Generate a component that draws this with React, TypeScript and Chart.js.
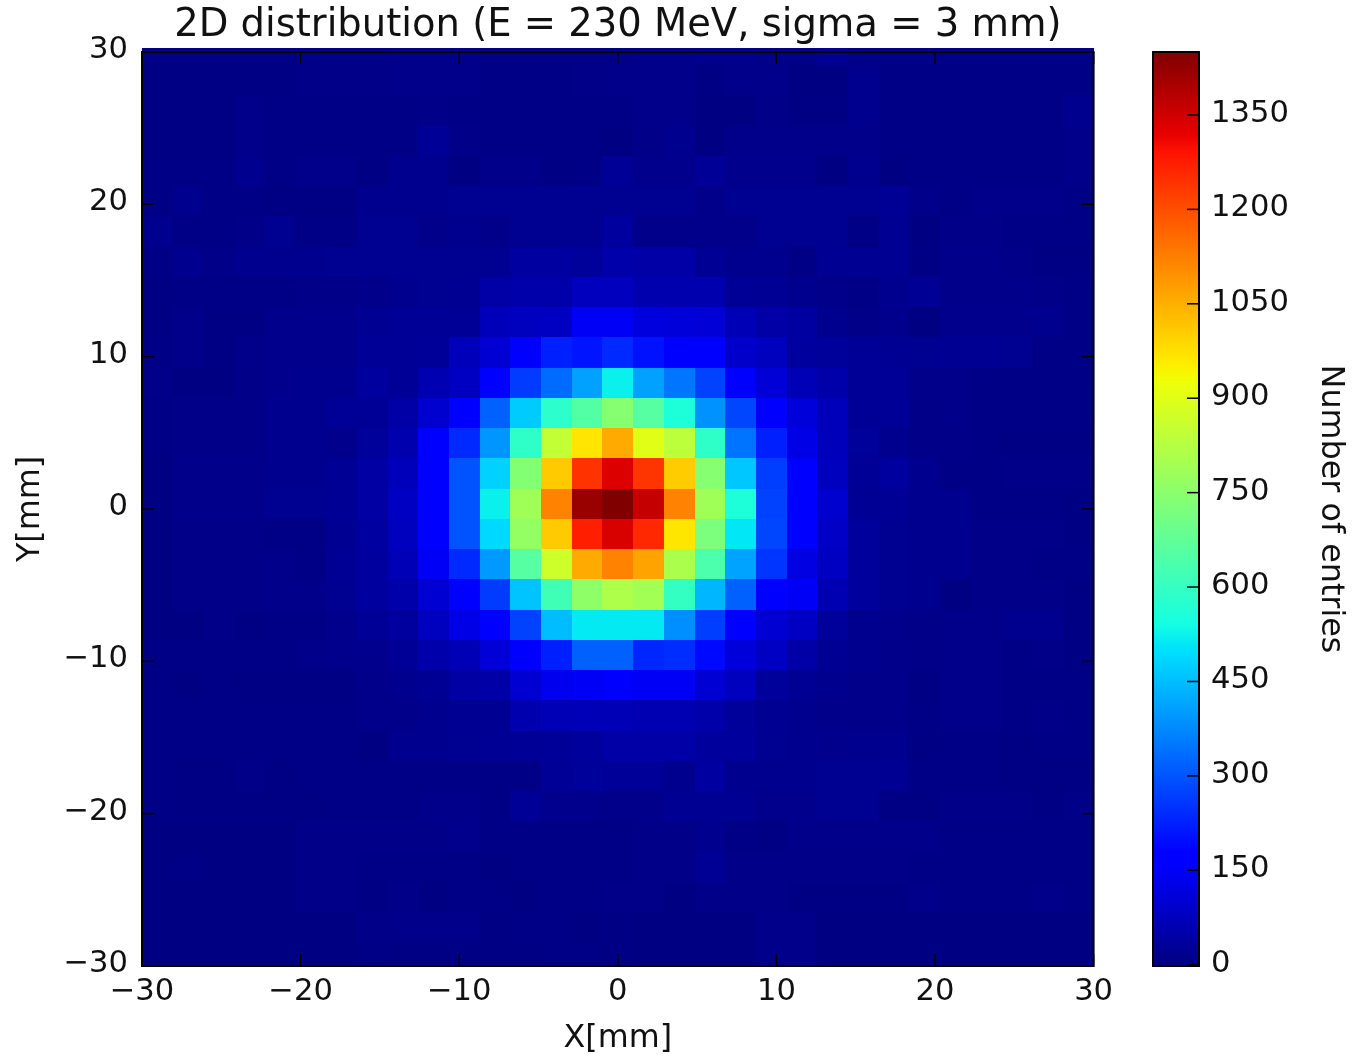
import React, { useEffect, useRef } from "react";
import { Chart, registerables } from "chart.js";

Chart.register(...registerables);

const FONT = "'DejaVu Sans', sans-serif";
const TICK_SIZE = 30.6;
const LABEL_SIZE = 31.8;
const TITLE_SIZE = 38.5;
const INK = "#111";

const titleText = "2D distribution (E = 230 MeV, sigma = 3 mm)";
const xLabel = "X[mm]";
const yLabel = "Y[mm]";
const colorbarLabel = "Number of entries";
const axisMin = -30;
const axisMax = 30;
const xBinCount = 31;
const yEdgeTop = 31.13;
const yBinStep = 1.986;
const imageTop = 30.27;
const colorMax = 1452;
const colorbarTicks = [0, 150, 300, 450, 600, 750, 900, 1050, 1200, 1350];

// counts per row from the top of the picture, columns left to right
const counts: number[][] = [
  [8,8,8,8,8,12,12,12,14,14,14,10,10,8,10,8,14,14,18,18,12,12,24,12,12,12,12,12,12,12,12],
  [7,7,7,7,7,12,12,12,14,14,14,10,10,10,12,14,14,14,6,14,14,5,5,18,8,8,8,8,8,8,8],
  [7,7,7,14,8,8,8,8,8,12,8,8,8,10,10,10,14,14,5,3,12,6,6,18,10,10,10,10,10,10,18],
  [7,7,7,14,8,8,8,8,8,30,12,8,8,10,10,5,12,20,3,14,14,14,14,14,10,10,10,10,10,10,14],
  [8,8,8,20,8,15,15,6,18,18,4,15,15,6,10,28,16,16,30,16,16,16,5,18,5,10,10,10,10,10,14],
  [10,18,8,10,6,6,6,20,20,20,22,22,22,22,22,22,22,22,14,22,22,22,22,22,26,14,8,14,14,14,8],
  [18,10,10,12,22,10,10,22,22,14,20,14,22,22,22,40,14,14,14,14,22,22,22,8,24,5,12,12,8,8,8],
  [10,18,12,18,18,18,22,22,22,22,22,22,42,42,35,55,50,50,26,18,20,10,24,24,24,6,14,14,12,6,6],
  [6,8,8,8,8,12,12,14,20,22,25,50,55,55,78,78,58,58,58,28,26,20,14,8,18,26,14,14,14,12,10],
  [6,14,6,6,16,16,16,24,28,28,30,75,80,85,150,150,120,115,110,70,48,42,20,12,16,5,16,16,16,18,8],
  [10,14,6,14,16,16,16,28,28,32,75,105,175,225,210,240,205,180,165,95,80,40,34,28,24,22,24,24,22,10,10],
  [12,5,5,12,16,18,18,38,30,65,85,165,265,335,410,525,410,350,275,165,110,70,55,30,30,15,15,10,10,8,8],
  [8,12,12,12,18,18,28,28,50,100,165,320,470,585,655,745,660,560,390,280,170,115,75,30,30,12,14,10,10,8,8],
  [8,12,12,12,18,18,16,35,60,160,240,395,590,850,970,1060,905,840,590,345,225,130,75,35,18,12,12,10,6,6,6],
  [4,14,14,14,20,20,26,45,75,165,300,480,740,1010,1245,1335,1240,1008,745,465,270,170,80,28,38,20,10,10,12,12,12],
  [4,14,14,14,22,22,26,45,85,170,300,525,790,1120,1420,1452,1365,1120,790,560,275,170,100,26,26,20,18,10,10,10,6],
  [4,12,12,12,10,10,24,42,80,170,300,490,770,1010,1275,1340,1260,968,725,510,280,170,90,36,22,18,18,12,12,12,6],
  [4,12,12,12,14,8,26,38,70,150,240,400,660,870,1060,1120,1070,810,640,415,255,125,85,36,22,18,18,12,12,8,8],
  [4,12,12,12,14,14,22,38,55,105,170,265,460,620,760,815,795,600,440,320,170,150,65,36,22,18,3,12,12,12,6],
  [4,4,12,6,10,10,16,30,40,80,130,170,275,450,515,515,515,385,270,165,105,85,34,20,16,12,14,14,20,20,6],
  [10,10,10,10,10,14,16,16,30,55,70,110,165,225,320,320,235,245,195,115,85,50,24,20,14,12,14,14,10,12,6],
  [8,4,10,6,6,6,6,14,20,25,45,50,105,140,150,170,150,150,105,80,35,25,20,14,14,6,14,14,10,10,8],
  [10,10,10,10,10,10,10,14,15,20,25,25,58,70,70,70,65,65,55,35,25,20,14,14,14,10,14,14,10,12,8],
  [10,8,8,8,10,10,10,4,20,20,22,26,28,32,36,50,50,50,36,36,22,18,16,18,20,6,10,10,6,8,10],
  [10,6,6,12,6,8,8,10,10,10,10,10,10,30,34,32,32,20,42,18,18,18,22,22,24,8,8,8,6,6,6],
  [8,6,6,6,6,6,10,10,10,14,14,8,28,16,16,14,14,24,24,24,16,16,22,22,6,6,12,12,12,6,12],
  [4,4,4,4,4,12,12,12,12,12,16,8,10,10,10,8,12,12,20,10,6,14,14,14,14,14,8,8,8,8,8],
  [4,10,4,4,4,12,12,10,10,10,10,5,10,10,10,8,12,12,26,12,12,12,12,12,12,8,10,8,8,8,8],
  [4,4,4,4,4,12,12,6,12,3,10,10,3,10,10,12,12,5,12,12,12,6,6,6,6,14,8,8,8,14,8],
  [4,4,4,4,4,4,4,12,14,14,14,6,10,10,3,6,4,4,4,4,14,14,5,5,5,5,5,5,5,5,5],
  [3,3,3,3,3,3,3,10,6,6,6,6,6,8,8,6,4,4,4,4,14,14,5,5,5,5,5,5,5,5,5],
];

const jetR: [number, number][] = [[0, 0], [0.35, 0], [0.66, 1], [0.89, 1], [1, 0.5]];
const jetG: [number, number][] = [[0, 0], [0.125, 0], [0.375, 1], [0.64, 1], [0.91, 0], [1, 0]];
const jetB: [number, number][] = [[0, 0.5], [0.11, 1], [0.34, 1], [0.65, 0], [1, 0]];
const jetStops = [0, 0.11, 0.125, 0.34, 0.35, 0.375, 0.64, 0.65, 0.66, 0.89, 0.91, 1];

function lerpTable(t: [number, number][], f: number) {
  for (let i = 1; i < t.length; i++) {
    if (f <= t[i][0]) {
      const [a, va] = t[i - 1];
      const [b, vb] = t[i];
      return va + ((vb - va) * (f - a)) / (b - a);
    }
  }
  return t[t.length - 1][1];
}

function jet(f: number) {
  const c = Math.max(0, Math.min(1, f));
  const ch = (t: [number, number][]) => Math.round(lerpTable(t, c) * 255);
  return `rgb(${ch(jetR)},${ch(jetG)},${ch(jetB)})`;
}

const xStep = (axisMax - axisMin) / xBinCount;
const cells = counts.flatMap((row, r) =>
  row.map((v, c) => ({
    x: axisMin + (c + 0.5) * xStep,
    y: yEdgeTop - (r + 0.5) * yBinStep,
    v,
  }))
);

const minusTick = (v: string | number) => String(v).replace("-", "\u2212");

const heatmapPlugin = {
  id: "heatmapCells",
  beforeDatasetsDraw(chart: any) {
    const { ctx, scales } = chart;
    const pts = chart.data.datasets[0].data as typeof cells;
    ctx.save();
    for (const p of pts) {
      const x0 = Math.round(scales.x.getPixelForValue(p.x - xStep / 2));
      const x1 = Math.round(scales.x.getPixelForValue(p.x + xStep / 2));
      const yHi = Math.min(p.y + yBinStep / 2, imageTop);
      const yLo = Math.max(p.y - yBinStep / 2, axisMin);
      const y0 = Math.round(scales.y.getPixelForValue(yHi));
      const y1 = Math.round(scales.y.getPixelForValue(yLo));
      ctx.fillStyle = jet(p.v / colorMax);
      ctx.fillRect(x0, y0, x1 - x0, y1 - y0);
    }
    ctx.restore();
  },
};

function strokeTick(ctx: CanvasRenderingContext2D, x0: number, y0: number, x1: number, y1: number) {
  ctx.beginPath();
  ctx.moveTo(x0, y0);
  ctx.lineTo(x1, y1);
  ctx.stroke();
}

const TICK_LEN = 12;

const mainFramePlugin = {
  id: "mainFrame",
  afterDraw(chart: any) {
    const { ctx, chartArea: a, scales } = chart;
    ctx.save();
    ctx.strokeStyle = "#000";
    ctx.lineWidth = 1.5;
    for (const t of scales.x.ticks) {
      const px = scales.x.getPixelForValue(t.value);
      strokeTick(ctx, px, a.top, px, a.top + TICK_LEN);
      strokeTick(ctx, px, a.bottom, px, a.bottom - TICK_LEN);
    }
    for (const t of scales.y.ticks) {
      const py = scales.y.getPixelForValue(t.value);
      strokeTick(ctx, a.left, py, a.left + TICK_LEN, py);
      strokeTick(ctx, a.right, py, a.right - TICK_LEN, py);
    }
    ctx.lineWidth = 2;
    ctx.strokeRect(a.left, a.top, a.right - a.left, a.bottom - a.top);
    ctx.restore();
  },
};

const colorbarFramePlugin = {
  id: "colorbarFrame",
  afterDraw(chart: any) {
    const { ctx, chartArea: a, scales } = chart;
    ctx.save();
    ctx.strokeStyle = "#000";
    ctx.lineWidth = 1.5;
    for (const t of scales.y.ticks) {
      const py = scales.y.getPixelForValue(t.value);
      strokeTick(ctx, a.right, py, a.right - TICK_LEN, py);
    }
    ctx.lineWidth = 2;
    ctx.strokeRect(a.left, a.top, a.right - a.left, a.bottom - a.top);
    ctx.restore();
  },
};

const canvasStyle = (left: number): React.CSSProperties => ({
  position: "absolute",
  left,
  top: 0,
  display: "block",
  filter: "blur(0.5px)",
});

const MAIN_W = 1125;
const BAR_W = 229;
const H = 1056;

export default function App() {
  const mainRef = useRef<HTMLCanvasElement>(null);
  const barRef = useRef<HTMLCanvasElement>(null);

  useEffect(() => {
    const main = new Chart(mainRef.current!, {
      type: "scatter",
      data: { datasets: [{ data: cells, pointRadius: 0, pointHoverRadius: 0 }] },
      plugins: [heatmapPlugin, mainFramePlugin],
      options: {
        animation: false,
        responsive: false,
        events: [],
        layout: { padding: { left: 0, right: MAIN_W - 1093.6, top: 0, bottom: 0 } },
        plugins: {
          legend: { display: false },
          tooltip: { enabled: false },
          title: {
            display: true,
            text: titleText,
            fullSize: false,
            color: INK,
            font: { family: FONT, size: TITLE_SIZE, weight: "normal" },
            padding: { top: 3, bottom: 2.8 },
          },
        },
        scales: {
          x: {
            type: "linear",
            min: axisMin,
            max: axisMax,
            afterFit: (s: any) => { s.height = 90; },
            border: { display: false },
            grid: { display: false, drawTicks: false },
            ticks: {
              stepSize: 10,
              color: INK,
              padding: 8,
              maxRotation: 0,
              autoSkip: false,
              font: { family: FONT, size: TICK_SIZE },
              callback: minusTick,
            },
            title: {
              display: true,
              text: xLabel,
              color: INK,
              padding: { top: 0, bottom: -2 },
              font: { family: FONT, size: LABEL_SIZE },
            },
          },
          y: {
            type: "linear",
            min: axisMin,
            max: axisMax,
            afterFit: (s: any) => { s.width = 142; },
            border: { display: false },
            grid: { display: false, drawTicks: false },
            ticks: {
              stepSize: 10,
              color: INK,
              padding: 14,
              labelOffset: -2,
              autoSkip: false,
              font: { family: FONT, size: TICK_SIZE },
              callback: minusTick,
            },
            title: {
              display: true,
              text: yLabel,
              color: INK,
              padding: { top: 12, bottom: 0 },
              font: { family: FONT, size: LABEL_SIZE },
            },
          },
        },
      },
    } as any);

    const bar = new Chart(barRef.current!, {
      type: "bar",
      data: {
        labels: [colorbarLabel],
        datasets: [
          {
            data: [[-2, colorMax - 2]],
            categoryPercentage: 1,
            barPercentage: 1,
            backgroundColor: (c: any) => {
              const a = c.chart.chartArea;
              if (!a) return jet(0);
              const g = c.chart.ctx.createLinearGradient(0, a.bottom, 0, a.top);
              jetStops.forEach((s) => g.addColorStop(s, jet(s)));
              return g;
            },
          },
        ],
      },
      plugins: [colorbarFramePlugin],
      options: {
        animation: false,
        responsive: false,
        events: [],
        layout: { padding: { left: 1153 - MAIN_W, right: 0, top: 52, bottom: H - 966 } },
        plugins: { legend: { display: false }, tooltip: { enabled: false }, title: { display: false } },
        scales: {
          x: { display: false },
          y: {
            position: "right",
            type: "linear",
            min: -2,
            max: colorMax - 2,
            afterBuildTicks: (s: any) => { s.ticks = colorbarTicks.map((value) => ({ value })); },
            afterFit: (s: any) => { s.width = 1354 - 1199; },
            border: { display: false },
            grid: { display: false, drawTicks: false },
            ticks: {
              color: INK,
              padding: 12,
              labelOffset: -1,
              autoSkip: false,
              font: { family: FONT, size: TICK_SIZE },
              callback: (v: number | string) => String(v),
            },
            title: {
              display: true,
              text: colorbarLabel,
              color: INK,
              padding: { top: 5, bottom: 0 },
              font: { family: FONT, size: LABEL_SIZE },
            },
          },
        },
      },
    } as any);

    return () => {
      main.destroy();
      bar.destroy();
    };
  }, []);

  return (
    <div>
      <canvas ref={mainRef} width={MAIN_W} height={H} style={canvasStyle(0)} />
      <canvas ref={barRef} width={BAR_W} height={H} style={canvasStyle(MAIN_W)} />
    </div>
  );
}
